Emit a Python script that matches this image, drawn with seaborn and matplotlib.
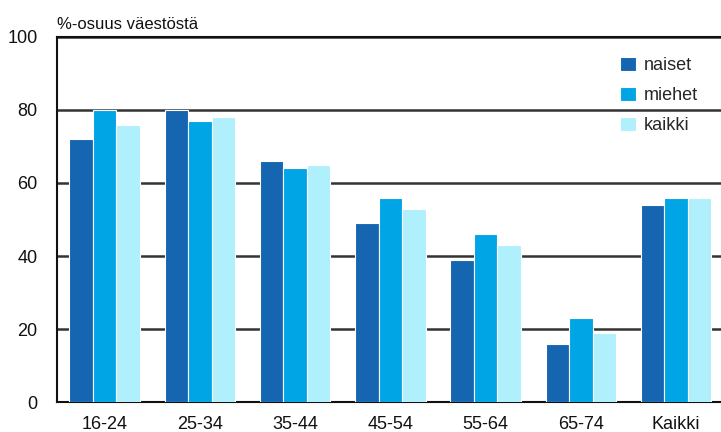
import matplotlib
matplotlib.use("Agg")
import matplotlib.pyplot as plt
import seaborn as sns
import pandas as pd

categories = ["16-24", "25-34", "35-44", "45-54", "55-64", "65-74", "Kaikki"]
naiset = [72, 80, 66, 49, 39, 16, 54]
miehet = [80, 77, 64, 56, 46, 23, 56]
kaikki = [76, 78, 65, 53, 43, 19, 56]
series = ["naiset", "miehet", "kaikki"]
colors = ["#1565b0", "#00a5e6", "#b0f0fc"]
yticks = [0, 20, 40, 60, 80, 100]

rows = []
for name, vals in zip(series, [naiset, miehet, kaikki]):
    for c, v in zip(categories, vals):
        rows.append({"ryhmä": c, "sarja": name, "arvo": v})
df = pd.DataFrame(rows)

sns.set_theme(style="white")
plt.rcParams["font.family"] = ["Liberation Sans", "DejaVu Sans"]

fig = plt.figure(figsize=(7.21, 4.32), dpi=100)
ax = fig.add_axes([0.079, 0.0694, 0.925, 0.845])

sns.barplot(data=df, x="ryhmä", y="arvo", hue="sarja", order=categories,
            hue_order=series, palette=colors, saturation=1, width=0.74, gap=0.0,
            edgecolor="white", linewidth=0.8, ax=ax, zorder=3)

ax.set_ylim(0, 100)
ax.set_xlim(-0.5, 6.5)
ax.set_yticks(yticks)
ax.set_yticklabels([str(t) for t in yticks])
ax.yaxis.grid(True, color="#333333", linewidth=1.8, zorder=0)
ax.set_axisbelow(True)
ax.tick_params(axis="both", length=0, labelsize=13, colors="#111111")
ax.tick_params(axis="y", pad=14)
ax.tick_params(axis="x", pad=10)
ax.set_xlabel("")
ax.set_ylabel("")
for s in ["left", "bottom", "top"]:
    ax.spines[s].set_visible(True)
    ax.spines[s].set_color("#111111")
    ax.spines[s].set_linewidth(1.5)
ax.spines["right"].set_visible(False)

fig.text(0.079, 0.925, "%-osuus väestöstä", fontsize=12, color="#111111",
         ha="left", va="bottom")

leg = ax.legend(loc="upper right", bbox_to_anchor=(0.985, 0.99), frameon=False,
                fontsize=13, handlelength=0.9, handleheight=0.8,
                handletextpad=0.4, labelspacing=0.72)

fig.savefig("out.png", dpi=100)
